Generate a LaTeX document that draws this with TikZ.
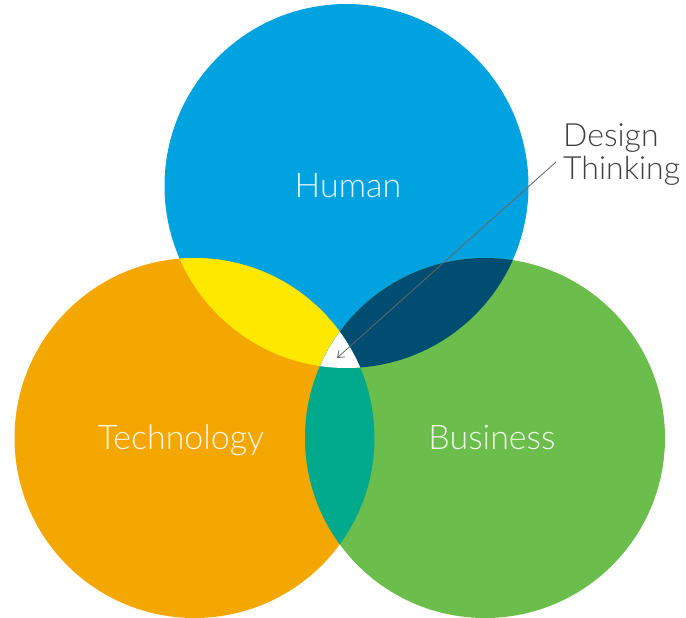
\documentclass[tikz,border=0pt]{standalone}
\usepackage{fontspec}
\setmainfont{Lato}[UprightFont=* Light]
\usetikzlibrary{arrows.meta}
\definecolor{humanc}{HTML}{00A3DF}
\definecolor{techc}{HTML}{F4A700}
\definecolor{busc}{HTML}{6BBE4B}
\definecolor{yelc}{HTML}{FFE800}
\definecolor{darkc}{HTML}{004D72}
\definecolor{tealc}{HTML}{00A98C}
\definecolor{txtc}{HTML}{404040}
\begin{document}
\begin{tikzpicture}[x=1pt,y=-1pt,
  lbl/.style={font=\fontsize{34}{40}\selectfont, text=white, text opacity=0.9, inner sep=0pt, anchor=base},
  dtlbl/.style={font=\fontsize{32}{33}\selectfont, text=txtc, inner sep=0pt, align=left, anchor=north west},
  pointer/.style={draw=txtc!80, line width=0.8pt, -{Straight Barb[length=6pt,width=9pt]}}]
\useasboundingbox (0,0) rectangle (686,618);
\coordinate (H) at (346.5,186);
\coordinate (T) at (194.5,438);
\coordinate (B) at (485,438);
\def\RH{182pt}
\def\RT{180pt}
\def\RB{180pt}
\fill[humanc] (H) circle[radius=\RH];
\fill[techc] (T) circle[radius=\RT];
\fill[busc] (B) circle[radius=\RB];
\begin{scope}
  \clip (H) circle[radius=\RH];
  \fill[yelc] (T) circle[radius=\RT];
  \fill[darkc] (B) circle[radius=\RB];
\end{scope}
\begin{scope}
  \clip (T) circle[radius=\RT];
  \fill[tealc] (B) circle[radius=\RB];
\end{scope}
\begin{scope}
  \clip (H) circle[radius=\RH];
  \clip (T) circle[radius=\RT];
  \fill[white] (B) circle[radius=\RB];
\end{scope}
\node[lbl] (human) at (348,197) {Human};
\node[lbl] (tech) at (181,449) {Technology};
\node[lbl] (bus) at (492,449) {Business};
\node[dtlbl] (dt) at (563,123) {Design\\Thinking};
\coordinate (dtstart) at (556,162);
\coordinate (dttip) at (337,358);
\draw[pointer] (dtstart) -- (dttip);
\end{tikzpicture}
\end{document}
